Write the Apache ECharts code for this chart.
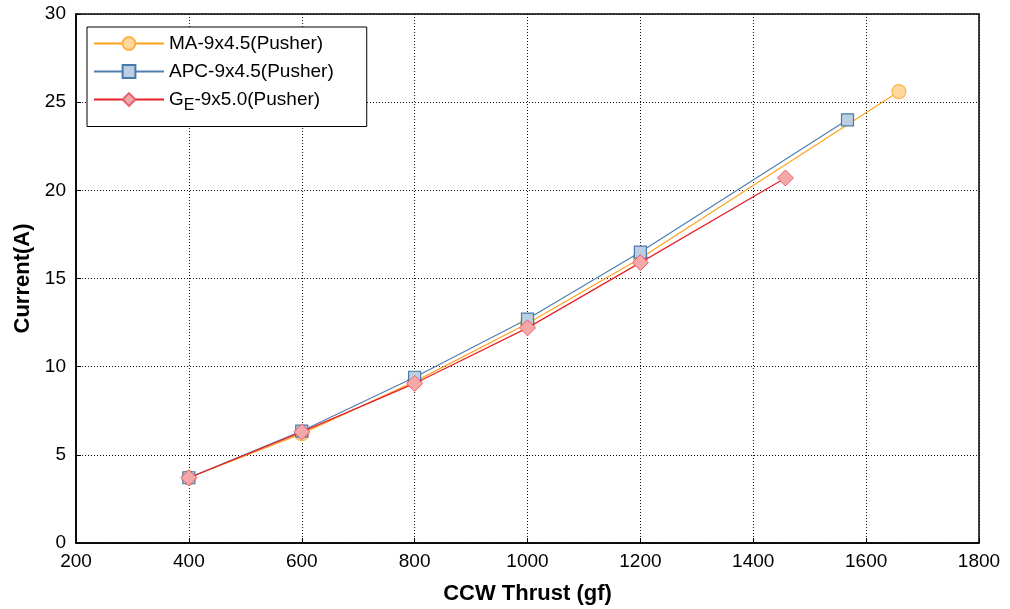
<!DOCTYPE html>
<html><head><meta charset="utf-8">
<script src="https://cdn.jsdelivr.net/npm/echarts@6/dist/echarts.min.js"></script>
<style>html,body{margin:0;padding:0;background:#fff}#c{width:1010px;height:609px}</style>
</head><body><div id="c"></div>
<script>
const seriesNames = ['MA-9x4.5(Pusher)', 'APC-9x4.5(Pusher)', 'GE-9x5.0(Pusher)'];
const maThrust = [400, 600, 800, 1000, 1200, 1658];
const maCurrent = [3.7, 6.2, 9.15, 12.45, 16.15, 25.6];
const apcThrust = [400, 600, 800, 1000, 1200, 1567];
const apcCurrent = [3.7, 6.35, 9.4, 12.7, 16.5, 24.0];
const geThrust = [400, 600, 800, 1000, 1200, 1457];
const geCurrent = [3.7, 6.3, 9.05, 12.2, 15.9, 20.7];
const xTicks = {min: 200, max: 1800, interval: 200};
const yTicks = {min: 0, max: 30, interval: 5};

const zip = (a, b) => a.map((v, i) => [v, b[i]]);
const font = 'Liberation Sans, Arial, sans-serif';
const chart = echarts.init(document.getElementById('c'));
const grid = {left: 76, right: 31, top: 14, bottom: 66, show: true, borderColor: '#000', borderWidth: 1.5,
  containLabel: false, outerBoundsMode: 'none'};
const axisCommon = {
  axisLine: {show: true, onZero: false, lineStyle: {color: '#000', width: 1.5}},
  axisTick: {show: true, inside: true, length: 5, lineStyle: {color: '#000'}},
  splitLine: {show: true, lineStyle: {color: '#111', type: [1, 2], width: 1}},
  axisLabel: {color: '#000', fontFamily: font, fontSize: 19, formatter: v => String(v)},
  nameTextStyle: {color: '#000', fontFamily: font, fontSize: 22, fontWeight: 'bold'}
};
chart.setOption({
  animation: false,
  grid: grid,
  xAxis: Object.assign({}, axisCommon, {
    type: 'value', min: xTicks.min, max: xTicks.max, interval: xTicks.interval,
    name: 'CCW Thrust (gf)', nameLocation: 'middle', nameGap: 40,
    axisLabel: Object.assign({}, axisCommon.axisLabel, {margin: 9})
  }),
  yAxis: Object.assign({}, axisCommon, {
    type: 'value', min: yTicks.min, max: yTicks.max, interval: yTicks.interval,
    name: 'Current(A)', nameLocation: 'middle', nameGap: 42,
    axisLabel: Object.assign({}, axisCommon.axisLabel, {margin: 10})
  }),
  legend: {
    orient: 'vertical', left: 87, top: 27, itemGap: 9, itemWidth: 70, itemHeight: 16,
    padding: [7, 33, 13, 6],
    backgroundColor: '#fff', borderColor: '#000', borderWidth: 1,
    textStyle: {color: '#000', fontFamily: font, fontSize: 19,
      rich: {n: {fontFamily: font, fontSize: 19, color: '#000'},
             s: {fontFamily: font, fontSize: 16, color: '#000', padding: [12, 0, 0, 0]}}},
    formatter: function (name) {
      if (name.indexOf('GE') === 0) return '{n|G}{s|E}{n|' + name.slice(2) + '}';
      return '{n|' + name + '}';
    },
    data: seriesNames
  },
  series: [
    {name: seriesNames[0], type: 'line', data: zip(maThrust, maCurrent), symbol: 'circle', symbolSize: 14,
     lineStyle: {color: '#FFA31A', width: 1.2}, itemStyle: {color: '#FFD8A0', borderColor: '#FFB347', borderWidth: 1.2}, z: 2},
    {name: seriesNames[1], type: 'line', data: zip(apcThrust, apcCurrent), symbol: 'rect', symbolSize: 12,
     lineStyle: {color: '#4F7FAF', width: 1.2}, itemStyle: {color: '#BCCFE2', borderColor: '#4A7AAA', borderWidth: 1.2}, z: 3},
    {name: seriesNames[2], type: 'line', data: zip(geThrust, geCurrent), symbol: 'diamond', symbolSize: 16,
     lineStyle: {color: '#E8202A', width: 1.2}, itemStyle: {color: '#F4A8AA', borderColor: '#E8606A', borderWidth: 1}, z: 4}
  ]
});
</script></body></html>
